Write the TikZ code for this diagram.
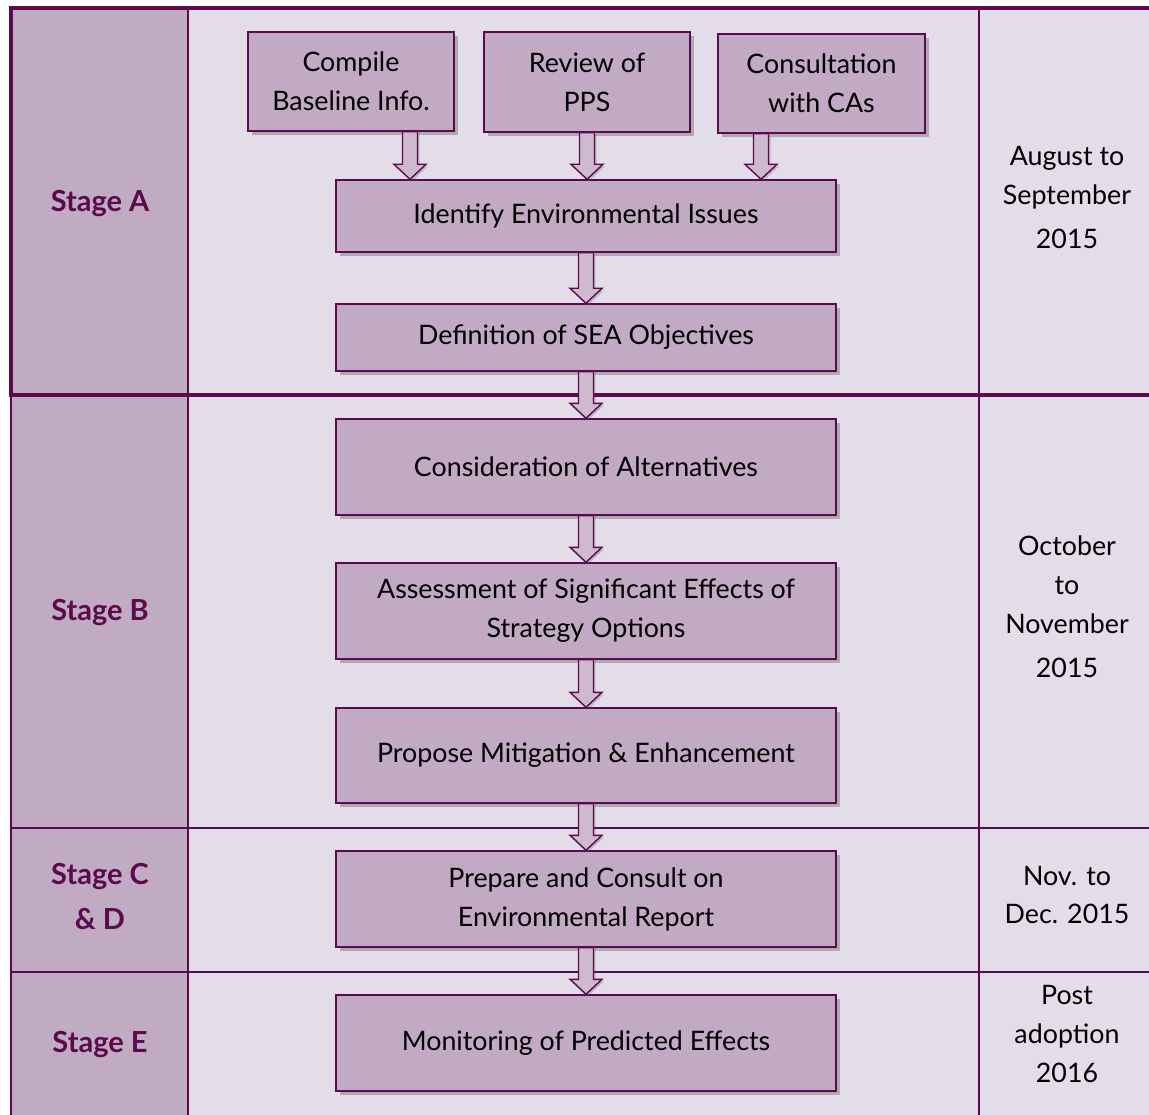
\documentclass[tikz,border=0pt]{standalone}
\usepackage{fontspec}
\setmainfont{Lato}
\usetikzlibrary{calc,shadows}
\definecolor{plum}{HTML}{5C0A4E}
\definecolor{stagefill}{HTML}{C1ABC3}
\definecolor{cellfill}{HTML}{E3DDEA}
\definecolor{boxfill}{HTML}{C2A9C4}
\definecolor{arrowfill}{HTML}{CDBACF}
\tikzset{
  tline/.style={draw=plum,line width=1.6pt},
  stepbox/.style={shape=rectangle,draw=plum,line width=1.4pt,fill=boxfill,align=center,
    inner sep=2pt,font=\fontsize{26.8}{39}\selectfont,
    drop shadow={shadow xshift=4pt,shadow yshift=-4pt,opacity=0.35,fill=black!70}},
  stagelbl/.style={align=center,text=plum,font=\fontsize{29}{45}\selectfont\bfseries},
  datelbl/.style={align=center,font=\fontsize{26.8}{39}\selectfont},
  flowarrow/.style={draw=plum,line width=1.4pt,fill=arrowfill,line join=miter,
    drop shadow={shadow xshift=2pt,shadow yshift=-2pt,opacity=0.25,fill=black!70}}
}
\newcommand\blockarr[2]{%
  \draw[flowarrow] let \p1=(#1), \p2=(#2) in
    (\x1-7.5pt,\y1) -- (\x1-7.5pt,\y2+15pt) -- (\x1-16pt,\y2+15pt) -- (\x1,\y2)
    -- (\x1+16pt,\y2+15pt) -- (\x1+7.5pt,\y2+15pt) -- (\x1+7.5pt,\y1) -- cycle;}
\begin{document}
\begin{tikzpicture}[x=1pt,y=-1pt]
			\useasboundingbox[fill=white] (0,0) rectangle (1149,1115);
			\fill[cellfill] (188,8) rectangle (1149,1115);
			\fill[stagefill] (11,8) rectangle (188,1115);
			\draw[tline] (188,8) -- (188,1115);
			\draw[tline] (979,8) -- (979,1115);
			\draw[tline] (11,395) -- (11,1115);
			\draw[tline] (11,828) -- (1149,828);
			\draw[tline] (11,972) -- (1149,972);
			\draw[draw=plum,line width=4pt] (1149,8) -- (11,8) -- (11,395) -- (1149,395);

			\node[stagelbl] (sa) at (100,204) {Stage A};
			\node[stagelbl] (sb) at (100,613) {Stage B};
			\node[stagelbl] (scd) at (100,897) {Stage C\\\& D};
			\node[stagelbl] (se) at (100,1045) {Stage E};

			\node[datelbl] (da) at (1067,198) {August to\\September\\[5pt]2015};
			\node[datelbl] (db) at (1067,607) {October\\to\\November\\[5pt]2015};
			\node[datelbl] (dcd) at (1067,895) {Nov. to\\Dec. 2015};
			\node[datelbl] (de) at (1067,1034) {Post\\adoption\\2016};

			\node[stepbox,minimum width=206,minimum height=99] (cbi) at (351,81.5) {Compile\\Baseline Info.};
			\node[stepbox,minimum width=206,minimum height=100] (pps) at (587,82) {Review of\\PPS};
			\node[stepbox,minimum width=207,minimum height=99] (cca) at (821.5,83.5) {Consultation\\with CAs};
			\node[stepbox,minimum width=500,minimum height=72] (iei) at (586,216) {Identify Environmental Issues};
			\node[stepbox,minimum width=500,minimum height=67] (dso) at (586,337.5) {Definition of SEA Objectives};
			\node[stepbox,minimum width=500,minimum height=96] (coa) at (586,467) {Consideration of Alternatives};
			\node[stepbox,minimum width=500,minimum height=96] (ase) at (586,611) {Assessment of Significant Effects of\\Strategy Options};
			\node[stepbox,minimum width=500,minimum height=95] (pme) at (586,755.5) {Propose Mitigation \& Enhancement};
			\node[stepbox,minimum width=500,minimum height=96] (pcr) at (586,899) {Prepare and Consult on\\Environmental Report};
			\node[stepbox,minimum width=500,minimum height=96] (mpe) at (586,1043) {Monitoring of Predicted Effects};

			\blockarr{$(cbi.south)+(59,0)$}{iei.north};
			\blockarr{pps.south}{iei.north};
			\blockarr{$(cca.south)+(-60.5,0)$}{iei.north};
			\blockarr{iei.south}{dso.north};
			\blockarr{dso.south}{coa.north};
			\blockarr{coa.south}{ase.north};
			\blockarr{ase.south}{pme.north};
			\blockarr{pme.south}{pcr.north};
			\blockarr{pcr.south}{mpe.north};

		\end{tikzpicture}
\end{document}
